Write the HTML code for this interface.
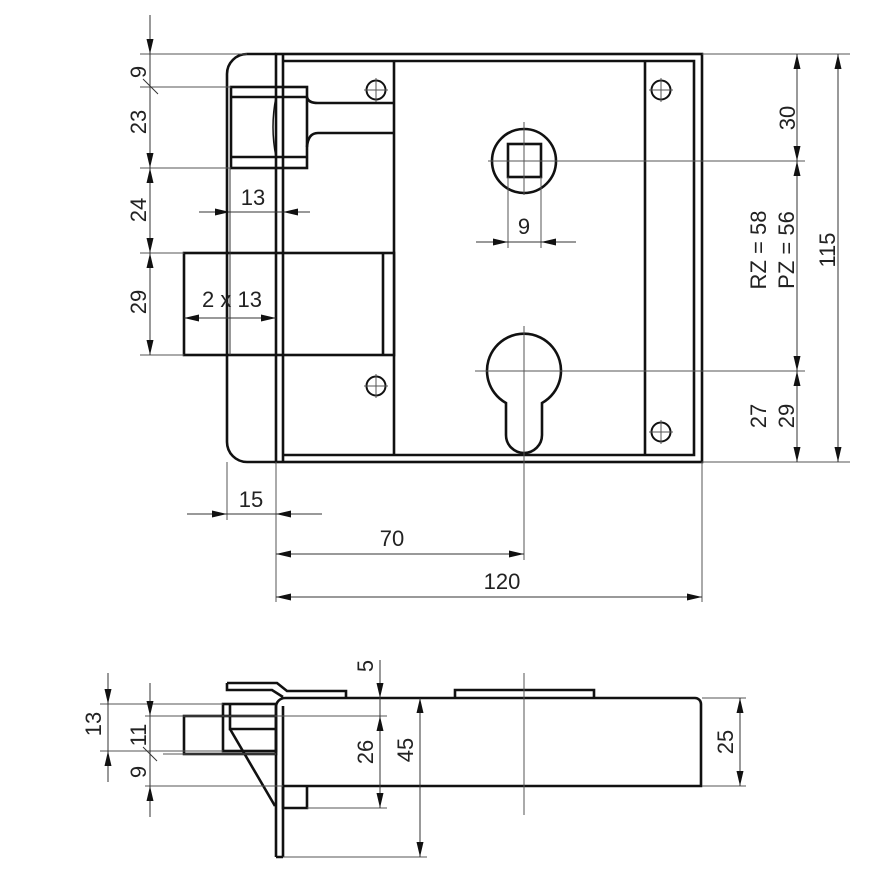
<!DOCTYPE html>
<html><head><meta charset="utf-8"><style>
html,body{margin:0;padding:0;background:#fff}
svg{display:block}
text{font-family:"Liberation Sans",sans-serif;font-size:22px;fill:#222}
.k{stroke:#111;stroke-width:2.6;fill:none}
.t{stroke:#555;stroke-width:1;fill:none}
.d{stroke:#333;stroke-width:1;fill:none}
.m{marker-end:url(#a)}
.b{marker-end:url(#a);marker-start:url(#a)}
</style></head><body>
<svg width="886" height="886" viewBox="0 0 886 886" xmlns="http://www.w3.org/2000/svg">
<defs><marker id="a" markerUnits="userSpaceOnUse" markerWidth="16" markerHeight="8" refX="15" refY="3.5" orient="auto-start-reverse"><path d="M0,0 L15,3.5 L0,7 z" fill="#111"/></marker></defs>

<!-- TOP VIEW -->
<path class="k" d="M276,54 H247 A20,20 0 0 0 227,74 V442 A20,20 0 0 0 247,462 H276"/>
<rect class="k" x="276" y="54" width="426" height="408"/>
<line class="k" x1="283" y1="54" x2="283" y2="462"/>
<path class="k" d="M283,61 H694 V455 H283"/>
<line class="k" x1="394" y1="61" x2="394" y2="455"/>
<line class="k" x1="645" y1="61" x2="645" y2="455"/>
<g class="k" style="stroke-width:2">
<circle cx="376" cy="90" r="9.5"/><circle cx="376" cy="386" r="9.5"/>
<circle cx="661" cy="90" r="9.5"/><circle cx="661" cy="432" r="9.5"/>
</g>
<g class="t">
<path d="M364,90H388M376,78V102M364,386H388M376,374V398M649,90H673M661,78V102M649,432H673M661,420V444"/>
</g>
<rect class="k" x="231" y="87" width="76" height="81" style="fill:#fff"/>
<path class="k" d="M231,97H307M231,157H307"/>
<path class="k" d="M276,97 Q270,127 276,157" style="stroke-width:1.5"/>
<line class="k" x1="276" y1="87" x2="276" y2="168"/><line class="k" x1="283" y1="87" x2="283" y2="168"/>
<path class="k" d="M307,97 Q308,103 318,103 H394 M307,147 Q308,133 318,133 H394"/>
<rect class="k" x="184" y="253" width="210" height="102" style="fill:#fff"/>
<line class="k" x1="383" y1="253" x2="383" y2="355"/>
<line class="k" x1="227" y1="253" x2="227" y2="355"/>
<line class="k" x1="276" y1="253" x2="276" y2="355"/><line class="k" x1="283" y1="253" x2="283" y2="355"/>
<line class="d" x1="230" y1="168" x2="230" y2="355"/>
<circle class="k" cx="524" cy="161" r="32"/>
<rect class="k" x="508" y="144" width="33" height="33"/>
<path class="k" d="M506,403 A37,37 0 1 1 542,403 V435 A18,18 0 0 1 506,435 Z"/>
<g class="t">
<path d="M488,161H805M524,122V195M475,371H805M524,326V560"/>
<path d="M702,54H850M702,462H850M702,462V602M276,462V602M227,462V520"/>
<path d="M140,54H247M140,87H231M140,168H231M140,253H184M140,355H184"/>
<path d="M508,177V248M541,177V248"/>
</g>
<line class="d" x1="797" y1="54" x2="797" y2="462"/>
<line class="d b" x1="797" y1="54" x2="797" y2="161"/>
<line class="d b" x1="797" y1="161" x2="797" y2="371"/>
<line class="d b" x1="797" y1="371" x2="797" y2="462"/>
<line class="d b" x1="838" y1="54" x2="838" y2="462"/>
<text transform="rotate(-90 795 118)" x="795" y="118" text-anchor="middle">30</text>
<text transform="rotate(-90 766 250)" x="766" y="250" text-anchor="middle">RZ = 58</text>
<text transform="rotate(-90 794 250)" x="794" y="250" text-anchor="middle">PZ = 56</text>
<text transform="rotate(-90 835 250)" x="835" y="250" text-anchor="middle">115</text>
<text transform="rotate(-90 766 416)" x="766" y="416" text-anchor="middle">27</text>
<text transform="rotate(-90 794 416)" x="794" y="416" text-anchor="middle">29</text>
<line class="d" x1="150" y1="15" x2="150" y2="355"/>
<line class="d m" x1="150" y1="30" x2="150" y2="54"/>
<line class="d" x1="143" y1="79" x2="158" y2="94"/>
<line class="d m" x1="150" y1="110" x2="150" y2="168"/>
<line class="d b" x1="150" y1="168" x2="150" y2="253"/>
<line class="d b" x1="150" y1="253" x2="150" y2="355"/>
<text transform="rotate(-90 146 72)" x="146" y="72" text-anchor="middle">9</text>
<text transform="rotate(-90 146 122)" x="146" y="122" text-anchor="middle">23</text>
<text transform="rotate(-90 146 210)" x="146" y="210" text-anchor="middle">24</text>
<text transform="rotate(-90 146 302)" x="146" y="302" text-anchor="middle">29</text>
<line class="d" x1="199" y1="212" x2="310" y2="212"/>
<line class="d m" x1="200" y1="212" x2="230" y2="212"/>
<line class="d m" x1="305" y1="212" x2="283" y2="212"/>
<text x="253" y="205" text-anchor="middle">13</text>
<line class="d b" x1="184" y1="318" x2="276" y2="318"/>
<text x="232" y="307" text-anchor="middle">2 x 13</text>
<line class="d" x1="476" y1="242" x2="576" y2="242"/>
<line class="d m" x1="480" y1="242" x2="508" y2="242"/>
<line class="d m" x1="570" y1="242" x2="541" y2="242"/>
<text x="524" y="234" text-anchor="middle">9</text>
<line class="d" x1="187" y1="514" x2="322" y2="514"/>
<line class="d m" x1="190" y1="514" x2="227" y2="514"/>
<line class="d m" x1="310" y1="514" x2="276" y2="514"/>
<text x="251" y="507" text-anchor="middle">15</text>
<line class="d b" x1="276" y1="554" x2="524" y2="554"/>
<text x="392" y="546" text-anchor="middle">70</text>
<line class="d b" x1="276" y1="597" x2="702" y2="597"/>
<text x="502" y="589" text-anchor="middle">120</text>

<!-- SIDE VIEW -->
<path class="k" d="M227,683 H277 L287,691 H346 V698 M227,683 V690 H272 L283,697"/>
<path class="k" d="M455,698 V690 H594 V698"/>
<path class="k" d="M276,857 V707 A9,9 0 0 1 285,698 H695 A6,6 0 0 1 701,704 V786 H283"/>
<path class="k" d="M283,857 V706 M276,857 H283"/>
<rect class="k" x="223" y="704" width="53" height="47"/>
<rect class="k" x="184" y="716" width="92" height="38"/>
<path class="k" d="M230,704 V729 H276 M230,729 L275,806"/>
<path class="k" d="M283,786 V808 H307 V786"/>
<g class="t">
<path d="M100,704H223M100,751H223M145,716H387M163,754H276M145,786H283M307,808H387M283,857H427M702,698H746M702,786H746M524,673V815"/>
</g>
<line class="d" x1="108" y1="673" x2="108" y2="782"/>
<line class="d m" x1="108" y1="680" x2="108" y2="704"/>
<line class="d m" x1="108" y1="776" x2="108" y2="751"/>
<text transform="rotate(-90 101 724)" x="101" y="724" text-anchor="middle">13</text>
<line class="d" x1="150" y1="683" x2="150" y2="817"/>
<line class="d m" x1="150" y1="690" x2="150" y2="716"/>
<line class="d m" x1="150" y1="812" x2="150" y2="786"/>
<line class="d" x1="143" y1="747" x2="157" y2="761"/>
<text transform="rotate(-90 146 735)" x="146" y="735" text-anchor="middle">11</text>
<text transform="rotate(-90 146 772)" x="146" y="772" text-anchor="middle">9</text>
<line class="d" x1="380" y1="660" x2="380" y2="808"/>
<line class="d m" x1="380" y1="675" x2="380" y2="698"/>
<line class="d b" x1="380" y1="716" x2="380" y2="808"/>
<text transform="rotate(-90 373 666)" x="373" y="666" text-anchor="middle">5</text>
<text transform="rotate(-90 373 752)" x="373" y="752" text-anchor="middle">26</text>
<line class="d b" x1="420" y1="698" x2="420" y2="857"/>
<text transform="rotate(-90 413 750)" x="413" y="750" text-anchor="middle">45</text>
<line class="d b" x1="740" y1="698" x2="740" y2="786"/>
<text transform="rotate(-90 733 742)" x="733" y="742" text-anchor="middle">25</text>
</svg>
</body></html>
